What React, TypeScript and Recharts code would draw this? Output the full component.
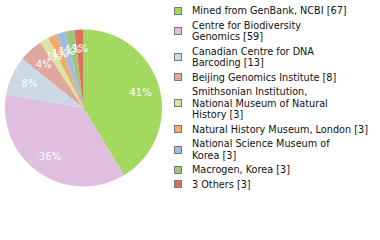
import React from "react";
import { PieChart, Pie, Cell, Legend } from "recharts";

// sequencing sources and their record counts
const sources = [
  "Mined from GenBank, NCBI",
  "Centre for Biodiversity Genomics",
  "Canadian Centre for DNA Barcoding",
  "Beijing Genomics Institute",
  "Smithsonian Institution, National Museum of Natural History",
  "Natural History Museum, London",
  "National Science Museum of Korea",
  "Macrogen, Korea",
  "3 Others",
];
const counts = [67, 59, 13, 8, 3, 3, 3, 3, 3];

// how each legend entry is broken over lines
const legendLines = [
  ["Mined from GenBank, NCBI [67]"],
  ["Centre for Biodiversity", "Genomics [59]"],
  ["Canadian Centre for DNA", "Barcoding [13]"],
  ["Beijing Genomics Institute [8]"],
  ["Smithsonian Institution,", "National Museum of Natural", "History [3]"],
  ["Natural History Museum, London [3]"],
  ["National Science Museum of", "Korea [3]"],
  ["Macrogen, Korea [3]"],
  ["3 Others [3]"],
];

const colors = [
  "#a2d95e",
  "#dfbee0",
  "#cbd9e5",
  "#e0a79f",
  "#dce5a0",
  "#f0ab72",
  "#9fbde2",
  "#9fc57b",
  "#de705e",
];

const data = sources.map((name, i) => ({ name, value: counts[i] }));

const FONT = "'DejaVu Sans', Verdana, sans-serif";
const RAD = Math.PI / 180;

const renderLabel = (props: any) => {
  const { cx, cy, midAngle, outerRadius, percent } = props;
  const r = outerRadius * 0.755;
  const x = cx + r * Math.cos(-midAngle * RAD);
  const y = cy + r * Math.sin(-midAngle * RAD);
  return (
    <text
      x={x}
      y={y}
      fill="#ffffff"
      textAnchor="middle"
      dominantBaseline="central"
      fontFamily={FONT}
      fontSize={10}
    >
      {Math.floor(percent * 100)}%
    </text>
  );
};

const SourceLegend = () => (
  <div style={{ fontFamily: FONT, fontSize: 9.7, color: "#111" }}>
    {legendLines.map((lines, i) => (
      <div
        key={i}
        style={{
          display: "flex",
          alignItems: "center",
          marginBottom: 3,
        }}
      >
        <span
          style={{
            width: 6,
            height: 6,
            background: colors[i],
            border: "1px solid #777",
            marginRight: 10,
            flexShrink: 0,
          }}
        />
        <div style={{ lineHeight: "11.5px", whiteSpace: "nowrap" }}>
          {lines.map((l, j) => (
            <div key={j}>{l}</div>
          ))}
        </div>
      </div>
    ))}
  </div>
);

export default function App() {
  return (
    <div style={{ position: "absolute", left: 0, top: 0, width: 380, height: 240, background: "#fff" }}>
      <PieChart width={380} height={240} margin={{ top: 0, right: 0, bottom: 0, left: 0 }}>
        <Pie
          data={data}
          dataKey="value"
          nameKey="name"
          cx={83.5}
          cy={108}
          outerRadius={78.5}
          startAngle={90}
          endAngle={-270}
          stroke="none"
          label={renderLabel}
          labelLine={false}
          isAnimationActive={false}
        >
          {data.map((d, i) => (
            <Cell key={d.name} fill={colors[i]} />
          ))}
        </Pie>
        <Legend
          layout="vertical"
          content={<SourceLegend />}
          wrapperStyle={{ left: 174, top: 5, width: 206 }}
        />
      </PieChart>
    </div>
  );
}
